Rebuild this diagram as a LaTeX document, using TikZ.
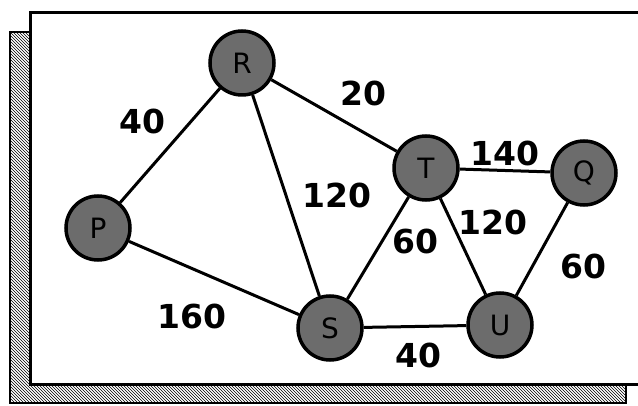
\documentclass[tikz,border=0pt]{standalone}
\usepackage{fontspec}
\setmainfont{DejaVu Sans}
\usetikzlibrary{patterns}
\definecolor{nodegray}{RGB}{108,108,108}
\tikzset{
  vert/.style={circle, draw=black, line width=3.5pt, fill=nodegray, minimum size=64pt, inner sep=0pt,
    font=\fontsize{28}{32}\selectfont},
  edge/.style={line width=3pt, black},
  wlabel/.style={inner sep=0pt, font=\fontsize{33}{38}\selectfont\bfseries},
  shadowstrip/.style={pattern=north west lines, pattern color=black, draw=black, line width=1.5pt},
  framebox/.style={fill=white, draw=black, line width=3pt}
}
\begin{document}
\begin{tikzpicture}[x=1pt,y=-1pt]
\useasboundingbox (0,0) rectangle (638,406);
% background
\fill[white] (0,0) rectangle (638,406);
% shadow
\path[shadowstrip] (10,32) -- (30,32) -- (30,385) -- (626,385) -- (626,403) -- (10,403) -- cycle;
% main frame
\path[framebox] (30,13) rectangle (660,385);
% nodes
\node[vert] (R) at (242,63) {R};
\node[vert] (P) at (98,228) {P};
\node[vert] (S) at (330,328) {S};
\node[vert] (T) at (426,168) {T};
\node[vert] (Q) at (584,173) {Q};
\node[vert] (U) at (500,325) {U};
% edges
\draw[edge] (P) -- (R);
\draw[edge] (R) -- (T);
\draw[edge] (R) -- (S);
\draw[edge] (P) -- (S);
\draw[edge] (T) -- (S);
\draw[edge] (T) -- (U);
\draw[edge] (T) -- (Q);
\draw[edge] (Q) -- (U);
\draw[edge] (S) -- (U);
% weights
\node[wlabel] (w1) at (142,121) {40};
\node[wlabel] (w2) at (363,93) {20};
\node[wlabel] (w3) at (337,195) {120};
\node[wlabel] (w4) at (505,153) {140};
\node[wlabel] (w5) at (415,241) {60};
\node[wlabel] (w6) at (493,222) {120};
\node[wlabel] (w7) at (583,266) {60};
\node[wlabel] (w8) at (418,355) {40};
\node[wlabel] (w9) at (192,316) {160};
\end{tikzpicture}
\end{document}
